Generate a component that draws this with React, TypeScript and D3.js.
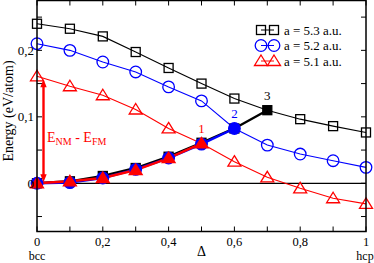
import React from "react";
import * as d3 from "d3";

const deltas = [0, 0.1, 0.2, 0.3, 0.4, 0.5, 0.6, 0.7, 0.8, 0.9, 1.0];
const nm53 = [0.240, 0.2325, 0.221, 0.1975, 0.1735, 0.15, 0.1275, 0.11, 0.0965, 0.086, 0.0765];
const nm52 = [0.21, 0.2, 0.1825, 0.1675, 0.145, 0.124, 0.0825, 0.0575, 0.044, 0.034, 0.024];
const nm51 = [0.161, 0.146, 0.1325, 0.111, 0.0825, 0.06, 0.0325, 0.009, -0.0075, -0.0225, -0.031];
const fm53 = [0, 0.003, 0.011, 0.023, 0.04, 0.061, 0.0825, 0.11];
const fm52 = [0, 0.001, 0.008, 0.021, 0.038, 0.059, 0.0825];
const fm51 = [0, 0.003, 0.008, 0.02, 0.038, 0.06];
const xTickVals = [0, 0.2, 0.4, 0.6, 0.8, 1];
const xTickLabels = ["0", "0,2", "0,4", "0,6", "0,8", "1"];
const yTickVals = [0, 0.1, 0.2];
const yTickLabels = ["0", "0,1", "0,2"];
const legendLabels = ["a = 5.3 a.u.", "a = 5.2 a.u.", "a = 5.1 a.u."];
const crossLabels = ["1", "2", "3"];

const BLACK = "#000";
const BLUE = "#0000ff";
const RED = "#ff0000";
const FONT = "'Liberation Serif', 'DejaVu Serif', serif";

function Square({ x, y, fill, color }: any) {
  return <rect x={x - 4.5} y={y - 4.5} width={9} height={9} fill={fill} stroke={color} strokeWidth={1.3} />;
}
function Circle({ x, y, fill, color }: any) {
  return <circle cx={x} cy={y} r={5.8} fill={fill} stroke={color} strokeWidth={1.3} />;
}
function Tri({ x, y, fill, color }: any) {
  const p = d3.path();
  p.moveTo(x, y - 6);
  p.lineTo(x + 6.5, y + 4.5);
  p.lineTo(x - 6.5, y + 4.5);
  p.closePath();
  return <path d={p.toString()} fill={fill} stroke={color} strokeWidth={1.3} />;
}

export default function App() {
  const W = 374, H = 263;
  const x0 = 37, x1 = 366, yTop = 0.5, yBot = 231.5;
  const x = d3.scaleLinear().domain([0, 1]).range([x0, x1]);
  const y = d3.scaleLinear().domain([-0.0725, 0.275]).range([yBot, yTop]);
  const line = d3.line<number>().x((_, i) => x(deltas[i])).y((d) => y(d));

  const xMinor = d3.range(0, 1.0001, 0.1);
  const yMinor = d3.range(-0.05, 0.2501, 0.05);
  const tl = 5;

  const series = [
    { nm: nm53, fm: fm53, color: BLACK, M: Square },
    { nm: nm52, fm: fm52, color: BLUE, M: Circle },
    { nm: nm51, fm: fm51, color: RED, M: Tri },
  ];

  const arrowX = 43.5;
  const arrTop = y(nm51[0]) + 3;
  const arrBot = y(0) - 1;

  return (
    <svg width={W} height={H} style={{ position: "absolute", left: 0, top: 0, background: "#fff" }} fontFamily={FONT}>
      <line x1={x0} x2={x1} y1={y(0)} y2={y(0)} stroke="#000" strokeWidth={1.2} />
      {xMinor.map((v, i) => (
        <g key={"xt" + i}>
          <line x1={x(v)} x2={x(v)} y1={yBot} y2={yBot - tl} stroke="#000" />
          <line x1={x(v)} x2={x(v)} y1={yTop} y2={yTop + tl} stroke="#000" />
        </g>
      ))}
      {yMinor.map((v, i) => (
        <g key={"yt" + i}>
          <line x1={x0} x2={x0 + tl} y1={y(v)} y2={y(v)} stroke="#000" />
          <line x1={x1} x2={x1 - tl} y1={y(v)} y2={y(v)} stroke="#000" />
        </g>
      ))}
      {series.map((s, k) => (
        <path key={"nml" + k} d={line(s.nm) || ""} fill="none" stroke={s.color} strokeWidth={1.1} />
      ))}
      {series.map((s, k) => (
        <path key={"fml" + k} d={line(s.fm) || ""} fill="none" stroke={s.color} strokeWidth={2.4} />
      ))}
      {series.map((s, k) =>
        s.nm.map((v, i) =>
          i === s.fm.length - 1 ? null : (
            <s.M key={"nmm" + k + "-" + i} x={x(deltas[i])} y={y(v)} fill="none" color={s.color} />
          )
        )
      )}
      {series.map((s, k) =>
        s.fm.map((v, i) => (
          <s.M key={"fmm" + k + "-" + i} x={x(deltas[i])} y={y(v)} fill={s.color} color={s.color} />
        ))
      )}
      {series.map((s, k) => {
        const idx = s.fm.length - 1;
        const lab = crossLabels[2 - k];
        return (
          <text key={"cl" + k} x={x(deltas[idx])} y={y(s.fm[idx]) - 10} textAnchor="middle" fontSize={13} fill={s.color}>
            {lab}
          </text>
        );
      })}
      <line x1={arrowX} x2={arrowX} y1={arrTop + 5} y2={arrBot - 5} stroke={RED} strokeWidth={2.4} />
      <path d={`M${arrowX - 3.2},${arrTop + 8} L${arrowX},${arrTop} L${arrowX + 3.2},${arrTop + 8} Z`} fill={RED} />
      <path d={`M${arrowX - 3.2},${arrBot - 8} L${arrowX},${arrBot} L${arrowX + 3.2},${arrBot - 8} Z`} fill={RED} />
      <text x={47} y={141.5} fontSize={14} fill={RED}>
        E<tspan fontSize={10} dy={3}>NM</tspan>
        <tspan dy={-3}> - E</tspan>
        <tspan fontSize={10} dy={3}>FM</tspan>
      </text>
      {series.map((s, k) => {
        const ly = 30 + k * 15.5;
        return (
          <g key={"lg" + k}>
            <line x1={261} x2={274} y1={ly} y2={ly} stroke={s.color} strokeWidth={1} />
            <s.M x={261} y={ly} fill="none" color={s.color} />
            <s.M x={274} y={ly} fill="none" color={s.color} />
            <text x={284} y={ly + 4.5} fontSize={13} fill="#000">{legendLabels[k]}</text>
          </g>
        );
      })}
      <rect x={x0} y={yTop} width={x1 - x0} height={yBot - yTop} fill="none" stroke="#000" strokeWidth={1.5} />
      {xTickVals.map((v, i) => (
        <text key={"xl" + i} x={x(v)} y={245.5} textAnchor="middle" fontSize={12.5}>
          {xTickLabels[i]}
        </text>
      ))}
      {yTickVals.map((v, i) => (
        <text key={"yl" + i} x={34} y={y(v) + 4.5} textAnchor="end" fontSize={13}>
          {yTickLabels[i]}
        </text>
      ))}
      <text x={x(0)} y={259.5} textAnchor="middle" fontSize={12}>bcc</text>
      <text x={x(1) - 1} y={259.5} textAnchor="middle" fontSize={12}>hcp</text>
      <text x={x(0.5)} y={256} textAnchor="middle" fontSize={14}>Δ</text>
      <text transform={`translate(13,${111}) rotate(-90)`} textAnchor="middle" fontSize={14}>
        Energy (eV/atom)
      </text>
    </svg>
  );
}
